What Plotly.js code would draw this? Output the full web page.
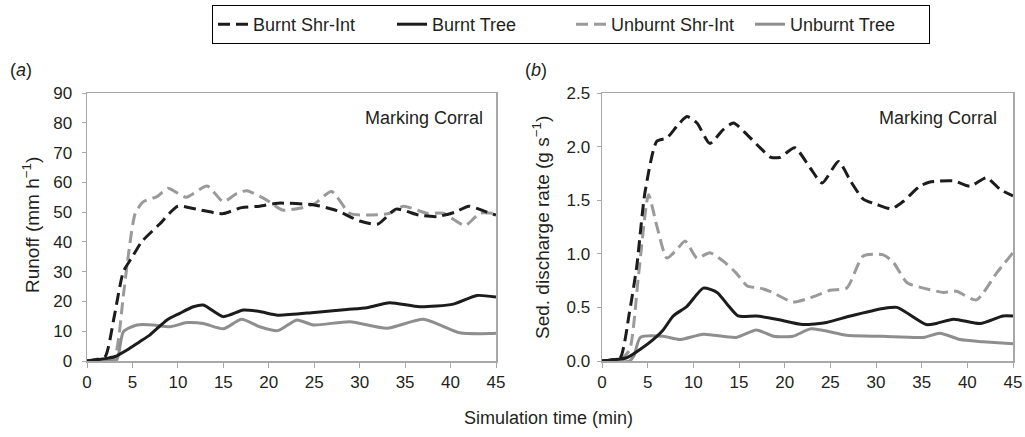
<!DOCTYPE html>
<html>
<head>
<meta charset="utf-8">
<script src="https://cdn.plot.ly/plotly-3.0.1.min.js"></script>
<style>html,body{margin:0;padding:0;background:#fff;}#chart{width:1025px;height:437px;}</style>
</head>
<body>
<div id="chart"></div>
<script>
// ---- Data ----
const seriesNames = ["Burnt Shr-Int", "Burnt Tree", "Unburnt Shr-Int", "Unburnt Tree"];
const xTickVals = [0, 5, 10, 15, 20, 25, 30, 35, 40, 45];

// (a) Runoff (mm h-1)
const runoffBurntShrT = [0, 1, 2, 3, 4, 5, 6, 8, 10, 12, 14, 15, 17, 19, 21, 25, 27.5, 30, 32, 34, 36.5, 38.5, 40.5, 42, 44, 45];
const runoffBurntShrV = [0, 0.5, 1.5, 15, 30, 35, 40, 46, 52, 51, 49.8, 49.5, 51.5, 52, 53, 52.4, 50.5, 47, 46, 51, 49, 48.5, 50, 52, 50, 49];
const runoffBurntTreeT = [0, 2, 3.1, 4.4, 5.8, 6.9, 8.8, 10.2, 11.7, 12.8, 15, 17.2, 19, 21, 25, 28.6, 30.8, 33.3, 36.6, 40.3, 42.9, 45];
const runoffBurntTreeV = [0, 0.8, 1.5, 3.7, 6.5, 8.7, 13.8, 16, 18.2, 18.8, 14.9, 17.1, 16.6, 15.4, 16.3, 17.3, 17.9, 19.6, 18.2, 19.1, 22, 21.5];
const runoffUnbShrT = [0, 2, 3, 4, 4.4, 5.3, 6.2, 7.7, 8.9, 10.9, 13.2, 15, 16.5, 17.6, 19.8, 21.5, 23.4, 25, 26.9, 28.9, 30.8, 33.3, 34.8, 37.4, 39.2, 41.6, 43.2, 45];
const runoffUnbShrV = [0, 0.3, 1, 22, 32, 49.5, 53.5, 55.2, 58, 55, 58.8, 53.5, 56.3, 57.2, 54, 50.7, 51.3, 52.7, 56.9, 49.6, 49, 49.6, 52, 49.6, 49.6, 45.5, 49.6, 49.5];
const runoffUnbTreeT = [0, 2.5, 3.3, 4, 5.5, 7.3, 9.1, 11, 12.8, 15, 17, 19, 21, 23.1, 24.9, 28.9, 33, 37, 41, 44.3, 45];
const runoffUnbTreeV = [0, 0, 0.5, 9.8, 12.1, 12.1, 11.5, 12.9, 12.6, 10.8, 14, 11.5, 10.2, 13.8, 12.1, 13.2, 11, 14, 9.5, 9.2, 9.3];

// (b) Sediment discharge rate (g s-1)
const sedBurntShrT = [0, 1, 2, 3, 3.8, 4.7, 6, 7.1, 8.2, 9.3, 10.4, 11.8, 13.3, 14.4, 15.9, 17.3, 18.5, 19.5, 21.1, 22.8, 24.1, 25.9, 27.2, 28.6, 30.1, 31.7, 33, 34.8, 35.9, 38.5, 40.3, 42.1, 43.6, 45];
const sedBurntShrV = [0, 0.01, 0.03, 0.45, 0.88, 1.57, 2.05, 2.08, 2.19, 2.28, 2.22, 2.03, 2.16, 2.22, 2.11, 1.99, 1.9, 1.9, 1.99, 1.8, 1.66, 1.86, 1.68, 1.51, 1.46, 1.42, 1.49, 1.63, 1.67, 1.68, 1.63, 1.71, 1.6, 1.54];
const sedBurntTreeT = [0, 2.7, 4.2, 5.6, 6.7, 7.8, 9.3, 11.1, 12.6, 13.7, 14.9, 16.9, 19.1, 22, 24.6, 27.2, 30.8, 32.3, 35.5, 36.6, 38.5, 41.4, 43.9, 45];
const sedBurntTreeV = [0, 0.03, 0.11, 0.2, 0.29, 0.42, 0.51, 0.68, 0.64, 0.53, 0.42, 0.42, 0.39, 0.34, 0.36, 0.42, 0.49, 0.5, 0.34, 0.35, 0.39, 0.35, 0.42, 0.42];
const sedUnbShrT = [0, 2, 3, 4, 5.1, 6, 7.1, 8.2, 9.1, 10.4, 11.8, 13.3, 14.7, 15.9, 17.3, 18.4, 20.9, 22.8, 25, 26.8, 28.6, 30.8, 31.9, 33.4, 35.2, 37.4, 38.8, 41, 43.2, 45];
const sedUnbShrV = [0, 0.02, 0.1, 0.8, 1.55, 1.26, 0.96, 1.04, 1.12, 0.96, 1.01, 0.93, 0.82, 0.7, 0.68, 0.65, 0.55, 0.59, 0.66, 0.68, 0.98, 0.99, 0.92, 0.73, 0.68, 0.64, 0.65, 0.57, 0.82, 1.01];
const sedUnbTreeT = [0, 3, 3.5, 4.2, 6.7, 8.5, 11.1, 14.7, 16.9, 18.8, 20.9, 22.9, 26.8, 30.8, 35.2, 37, 39.2, 41.7, 45];
const sedUnbTreeV = [0, 0, 0.05, 0.22, 0.23, 0.2, 0.25, 0.22, 0.29, 0.23, 0.23, 0.3, 0.24, 0.23, 0.22, 0.26, 0.2, 0.18, 0.16];

// ---- Styles ----
const styles = [
  {color: "#1c1c1c", dash: "12px,6px", width: 3},
  {color: "#1c1c1c", dash: "solid", width: 3},
  {color: "#9a9a9a", dash: "12px,6px", width: 3},
  {color: "#8e8e8e", dash: "solid", width: 3}
];

const leftData = [[runoffBurntShrT, runoffBurntShrV], [runoffBurntTreeT, runoffBurntTreeV], [runoffUnbShrT, runoffUnbShrV], [runoffUnbTreeT, runoffUnbTreeV]];
const rightData = [[sedBurntShrT, sedBurntShrV], [sedBurntTreeT, sedBurntTreeV], [sedUnbShrT, sedUnbShrV], [sedUnbTreeT, sedUnbTreeV]];

const order = [2, 3, 1, 0]; // draw order: gray under black
const traces = [];
order.forEach(i => {
  const s = styles[i];
  traces.push({
    x: leftData[i][0], y: leftData[i][1], xaxis: "x", yaxis: "y",
    type: "scatter", mode: "lines", name: seriesNames[i], legendgroup: seriesNames[i],
    legendrank: i + 1, showlegend: true,
    line: {color: s.color, dash: s.dash, width: s.width, shape: "spline", smoothing: 0.6},
    hoverinfo: "skip"
  });
  traces.push({
    x: rightData[i][0], y: rightData[i][1], xaxis: "x2", yaxis: "y2",
    type: "scatter", mode: "lines", name: seriesNames[i], legendgroup: seriesNames[i],
    showlegend: false,
    line: {color: s.color, dash: s.dash, width: s.width, shape: "spline", smoothing: 0.6},
    hoverinfo: "skip"
  });
});

const W = 1025, H = 437;
const FONT = "Liberation Sans, Arial, Helvetica, sans-serif";
const axisCommon = {
  showline: true, linecolor: "#a8a8a8", linewidth: 1.5, mirror: true,
  showgrid: false, zeroline: false, ticks: "outside", tickcolor: "#a8a8a8",
  tickfont: {family: FONT, size: 17, color: "#231f20"}, fixedrange: true
};
const yDom = [(H - 361) / H, (H - 93) / H];

const layout = {
  width: W, height: H,
  margin: {l: 0, r: 0, t: 0, b: 0},
  paper_bgcolor: "#fff", plot_bgcolor: "#fff",
  font: {family: FONT, color: "#231f20"},
  showlegend: true,
  legend: {
    orientation: "h", x: 212 / W, y: 1 - 5 / H, xanchor: "left", yanchor: "top",
    bordercolor: "#000", borderwidth: 1, bgcolor: "#fff",
    font: {family: FONT, size: 18, color: "#231f20"},
    entrywidth: 134, entrywidthmode: "pixels", traceorder: "normal"
  },
  xaxis: Object.assign({}, axisCommon, {domain: [87 / W, 496 / W], range: [0, 45], tickvals: xTickVals, ticklen: 5, anchor: "y"}),
  yaxis: Object.assign({}, axisCommon, {domain: yDom, range: [0, 90], dtick: 10, tick0: 0, ticklen: 4, ticklabelstandoff: 6, anchor: "x"}),
  xaxis2: Object.assign({}, axisCommon, {domain: [602 / W, 1013 / W], range: [0, 45], tickvals: xTickVals, ticklen: 5, anchor: "y2"}),
  yaxis2: Object.assign({}, axisCommon, {domain: yDom, range: [0, 2.5], dtick: 0.5, tick0: 0, tickformat: ".1f", ticklen: 4, ticklabelstandoff: 3, anchor: "x2"}),
  annotations: [
    {text: "(<i>a</i>)", xref: "paper", yref: "paper", x: 8 / W, y: (H - 70) / H, xanchor: "left", yanchor: "middle", showarrow: false, font: {family: FONT, size: 18}},
    {text: "(<i>b</i>)", xref: "paper", yref: "paper", x: 523 / W, y: (H - 70) / H, xanchor: "left", yanchor: "middle", showarrow: false, font: {family: FONT, size: 18}},
    {text: "Marking Corral", xref: "paper", yref: "paper", x: 485 / W, y: (H - 118) / H, xanchor: "right", yanchor: "middle", showarrow: false, font: {family: FONT, size: 18}},
    {text: "Marking Corral", xref: "paper", yref: "paper", x: 999 / W, y: (H - 118) / H, xanchor: "right", yanchor: "middle", showarrow: false, font: {family: FONT, size: 18}},
    {text: "Runoff (mm h<sup>\u22121</sup>)", xref: "paper", yref: "paper", x: 31 / W, y: (H - 225) / H, xanchor: "center", yanchor: "middle", textangle: -90, showarrow: false, font: {family: FONT, size: 19}},
    {text: "Sed. discharge rate (g s<sup>\u22121</sup>)", xref: "paper", yref: "paper", x: 541 / W, y: (H - 228) / H, xanchor: "center", yanchor: "middle", textangle: -90, showarrow: false, font: {family: FONT, size: 19}},
    {text: "Simulation time (min)", xref: "paper", yref: "paper", x: 548 / W, y: (H - 418) / H, xanchor: "center", yanchor: "middle", showarrow: false, font: {family: FONT, size: 18}}
  ]
};

Plotly.newPlot("chart", traces, layout, {displayModeBar: false, staticPlot: true});
</script>
</body>
</html>
